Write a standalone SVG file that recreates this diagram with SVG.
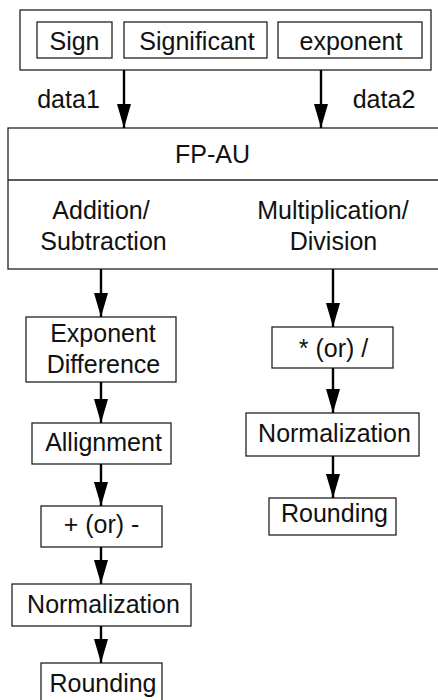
<svg xmlns="http://www.w3.org/2000/svg" width="438" height="700" viewBox="0 0 438 700">
<style>
.box{fill:#fff;stroke:#222;stroke-width:1.3}
.t{font-family:"Liberation Sans",Arial,sans-serif;font-size:25px;fill:#111;text-anchor:middle}
.c{stroke:#000;stroke-width:2.4;fill:none}
</style>
<defs>
<marker id="ah" viewBox="0 0 24 14" refX="24" refY="7" markerWidth="24" markerHeight="14" markerUnits="userSpaceOnUse" orient="auto">
<path d="M0,0 L24,7 L0,14 z" fill="#000"/>
</marker>
</defs>
<rect width="438" height="700" fill="#fff"/>
<g id="format">
<rect class="box" x="20" y="10" width="411" height="60"/>
</g>
<g id="sign"><rect class="box" x="37" y="22" width="75" height="36"/><text class="t" x="74.5" y="50">Sign</text></g>
<g id="significant"><rect class="box" x="124" y="22" width="143" height="36"/><text class="t" x="197" y="50">Significant</text></g>
<g id="exponent"><rect class="box" x="278" y="22" width="144" height="36"/><text class="t" x="351" y="50">exponent</text></g>
<g id="fpau">
<rect class="box" x="8" y="128" width="440" height="141"/>
<line x1="8" y1="180" x2="440" y2="180" stroke="#222" stroke-width="1.3"/>
<text class="t" x="212.5" y="163">FP-AU</text>
<text class="t" x="101" y="219">Addition/</text>
<text class="t" x="103.5" y="250">Subtraction</text>
<text class="t" x="333" y="219">Multiplication/</text>
<text class="t" x="333.5" y="250">Division</text>
</g>
<g id="expdiff"><rect class="box" x="26" y="317" width="150" height="65"/><text class="t" x="103" y="342">Exponent</text><text class="t" x="103.5" y="373">Difference</text></g>
<g id="allign"><rect class="box" x="32" y="423" width="139" height="41"/><text class="t" x="103.5" y="451">Allignment</text></g>
<g id="addsub"><rect class="box" x="41" y="506" width="121" height="41"/><text class="t" x="101.5" y="533">+ (or) -</text></g>
<g id="norm1"><rect class="box" x="12" y="584" width="179" height="42"/><text class="t" x="103.5" y="613">Normalization</text></g>
<g id="round1"><rect class="box" x="41" y="663" width="121" height="45"/><text class="t" x="103" y="692">Rounding</text></g>
<g id="muldiv"><rect class="box" x="272" y="327" width="121" height="41"/><text class="t" x="333.5" y="357">* (or) /</text></g>
<g id="norm2"><rect class="box" x="246" y="413" width="173" height="43"/><text class="t" x="334.5" y="442">Normalization</text></g>
<g id="round2"><rect class="box" x="269" y="498" width="127" height="37"/><text class="t" x="334.5" y="522">Rounding</text></g>
<g id="labels">
<text class="t" x="68.5" y="108">data1</text>
<text class="t" x="384" y="108">data2</text>
</g>
<g id="connectors">
<line class="c" x1="124" y1="70" x2="124" y2="128" marker-end="url(#ah)"/>
<line class="c" x1="321" y1="70" x2="321" y2="128" marker-end="url(#ah)"/>
<line class="c" x1="101" y1="269" x2="101" y2="317" marker-end="url(#ah)"/>
<line class="c" x1="333" y1="269" x2="333" y2="327" marker-end="url(#ah)"/>
<line class="c" x1="101" y1="382" x2="101" y2="423" marker-end="url(#ah)"/>
<line class="c" x1="101" y1="464" x2="101" y2="506" marker-end="url(#ah)"/>
<line class="c" x1="101" y1="547" x2="101" y2="584" marker-end="url(#ah)"/>
<line class="c" x1="101" y1="626" x2="101" y2="663" marker-end="url(#ah)"/>
<line class="c" x1="333" y1="368" x2="333" y2="413" marker-end="url(#ah)"/>
<line class="c" x1="333" y1="456" x2="333" y2="498" marker-end="url(#ah)"/>
</g>
</svg>
